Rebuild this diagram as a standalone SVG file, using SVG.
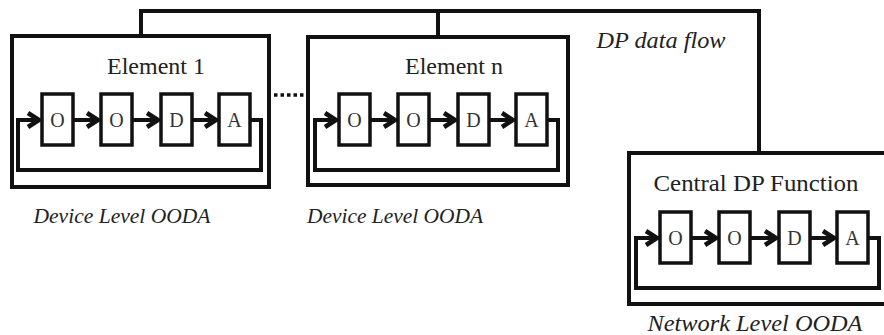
<svg xmlns="http://www.w3.org/2000/svg" width="884" height="335" viewBox="0 0 884 335">
<style>
.frame{fill:#fff;stroke:#111;stroke-width:4}
.step{fill:#fff;stroke:#111;stroke-width:3.5}
.wire{fill:none;stroke:#111;stroke-width:4;stroke-linejoin:miter}
.arr{fill:none;stroke:#111;stroke-width:4}
text{font-family:'Liberation Serif','DejaVu Serif',serif}
.ltr{font-size:20px;fill:#333;text-anchor:middle}
.title{font-size:24px;fill:#222;text-anchor:middle}
.cap{font-style:italic;fill:#222;text-anchor:middle}
</style>
<defs>
<marker id="chev" markerWidth="20" markerHeight="20" refX="15" refY="10" orient="auto" markerUnits="userSpaceOnUse">
<path d="M3,3 L14,10 L3,17" fill="none" stroke="#111" stroke-width="4.5" stroke-linejoin="miter"/>
</marker>
<g id="ooda">
<rect class="step" x="42" y="94" width="31" height="51"/>
<rect class="step" x="101" y="94" width="31" height="51"/>
<rect class="step" x="161" y="94" width="31" height="51"/>
<rect class="step" x="219" y="94" width="31" height="51"/>
<text class="ltr" x="57.5" y="127" font-family="Liberation Serif, serif">O</text>
<text class="ltr" x="116.5" y="127" font-family="Liberation Serif, serif">O</text>
<text class="ltr" x="176.5" y="127" font-family="Liberation Serif, serif">D</text>
<text class="ltr" x="234.5" y="127" font-family="Liberation Serif, serif">A</text>
<path class="arr" d="M73,120 H99" marker-end="url(#chev)"/>
<path class="arr" d="M132,120 H159" marker-end="url(#chev)"/>
<path class="arr" d="M192,120 H217" marker-end="url(#chev)"/>
<path class="wire" d="M250,120 H261 V170 H18 V120 H40" marker-end="url(#chev)"/>
</g>
</defs>

<g id="connectors">
<path class="wire" d="M141,36 V11 H759 V153"/>
<path class="wire" d="M438,11 V37"/>
<path d="M274,95 H304" fill="none" stroke="#111" stroke-width="3.5" stroke-dasharray="3.5,3"/>
</g>

<g id="element1">
<rect class="frame" x="12" y="36" width="257" height="151"/>
<text class="title" x="156" y="74" font-family="Liberation Serif, serif">Element 1</text>
<use href="#ooda"/>
</g>

<g id="elementn">
<rect class="frame" x="308" y="37" width="260" height="148"/>
<text class="title" x="454" y="74" font-family="Liberation Serif, serif">Element n</text>
<use href="#ooda" transform="translate(297,0)"/>
</g>

<g id="central">
<rect class="frame" x="629" y="153" width="260" height="151"/>
<text class="title" x="756" y="191" font-family="Liberation Serif, serif" textLength="205" lengthAdjust="spacingAndGlyphs">Central DP Function</text>
<use href="#ooda" transform="translate(618,118)"/>
</g>

<g id="labels">
<text class="cap" x="661" y="48" font-size="23" font-family="Liberation Serif, serif" textLength="129" lengthAdjust="spacingAndGlyphs">DP data flow</text>
<text class="cap" x="122" y="223" font-size="22" font-family="Liberation Serif, serif" textLength="177" lengthAdjust="spacingAndGlyphs">Device Level OODA</text>
<text class="cap" x="395" y="223" font-size="22" font-family="Liberation Serif, serif" textLength="176" lengthAdjust="spacingAndGlyphs">Device Level OODA</text>
<text class="cap" x="755" y="331" font-size="23" font-family="Liberation Serif, serif" textLength="215" lengthAdjust="spacingAndGlyphs">Network Level OODA</text>
</g>
</svg>
